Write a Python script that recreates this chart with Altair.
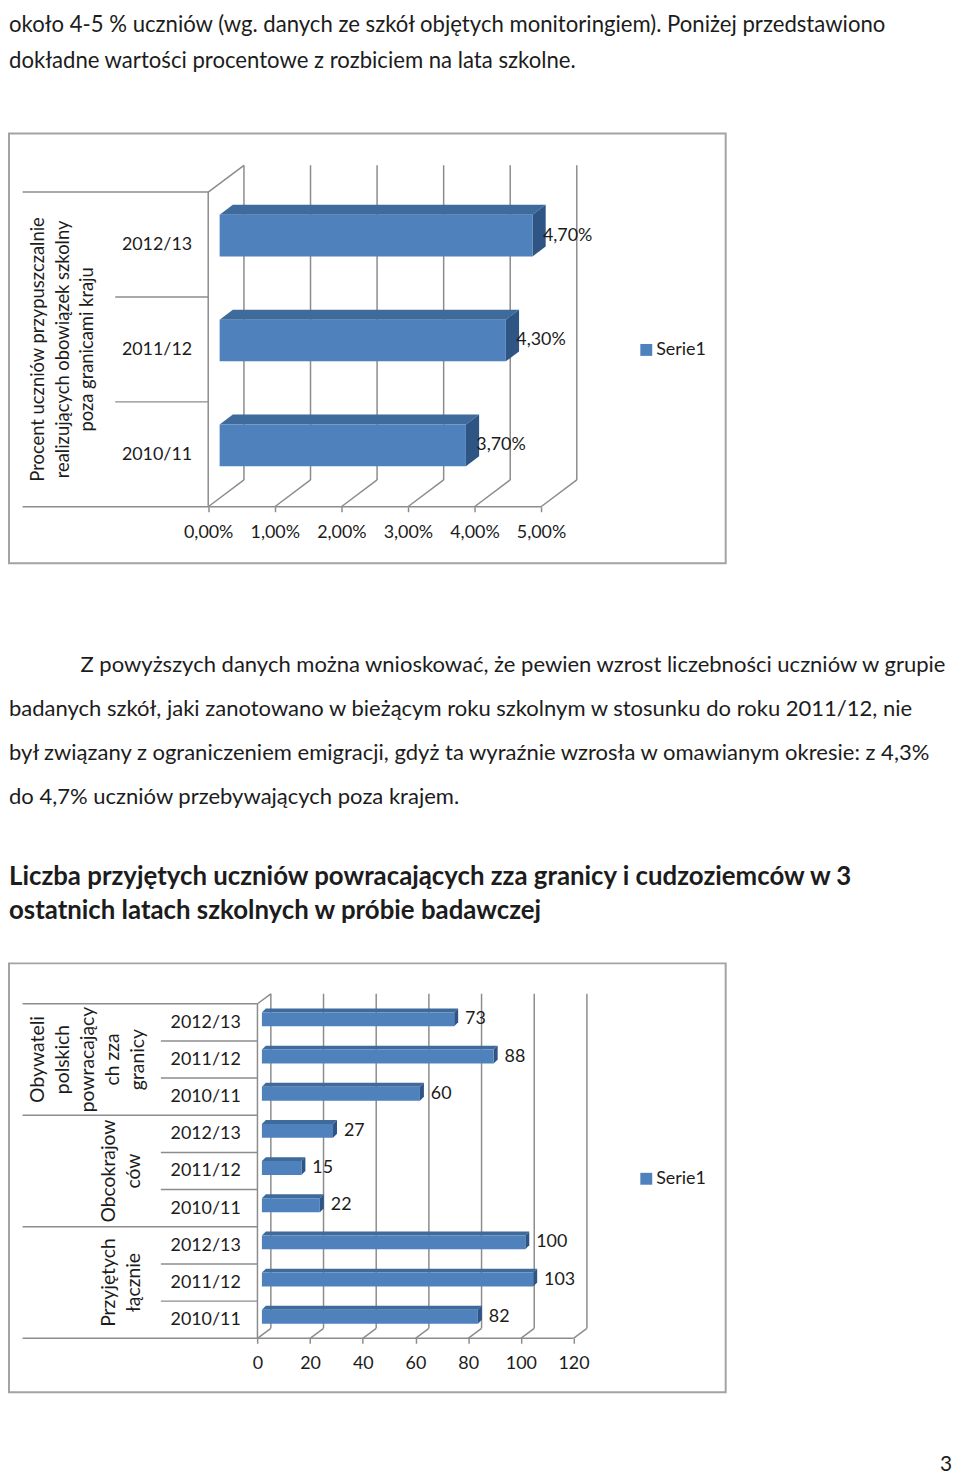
import json
import altair as alt
import pandas as pd

# ------------------------------------------------------------------ data
TOP_LINES = [
    "około 4-5 % uczniów (wg. danych ze szkół objętych monitoringiem). Poniżej przedstawiono",
    "dokładne wartości procentowe z rozbiciem na lata szkolne.",
]
PARA_FIRST = ["Z powyższych danych można wnioskować, że pewien wzrost liczebności uczniów w grupie"]
PARA_REST = [
    "badanych szkół,  jaki zanotowano w bieżącym roku szkolnym w stosunku do roku 2011/12,  nie",
    "był związany z ograniczeniem emigracji, gdyż ta wyraźnie wzrosła w omawianym okresie:  z 4,3%",
    "do 4,7% uczniów przebywających poza krajem.",
]
HEADING = [
    "Liczba przyjętych uczniów powracających zza granicy i cudzoziemców w 3",
    "ostatnich latach szkolnych w próbie badawczej",
]
PAGE_NO = ["3"]

SERIES = "Serie1"

# chart 1 (bottom -> top)
C1_YEARS = ["2010/11", "2011/12", "2012/13"]
C1_VALUES = [3.7, 4.3, 4.7]
C1_TICKS = [0, 1, 2, 3, 4, 5]
C1_TITLE = ["Procent uczniów przypuszczalnie\nrealizujących obowiązek szkolny\npoza granicami kraju"]

# chart 2 (bottom -> top)
C2_GROUPS = ["Przyjętych\nłącznie", "Obcokrajow\nców", "Obywateli\npolskich\npowracający\nch zza\ngranicy"]
C2_YEARS = ["2010/11", "2011/12", "2012/13"]
C2_VALUES = [82, 103, 100, 22, 15, 27, 60, 88, 73]
C2_TICKS = [0, 20, 40, 60, 80, 100, 120]

# ------------------------------------------------------------------ style
FONT = "Lato"
TXT = "#1c1c1c"
GRID = "#8c8c8c"
FRAME = "#a3a3a3"
FRONT = "#4f81bd"
TOPC = "#3e6a9c"
SIDEC = "#2f5585"


def chart3d(values, cat_labels, ticks, label_texts, tick_expr, W, H, xr, yr,
            wall, bar, lab_dx, axis_x, sep_long_x, sep_short_x, long_at,
            legend_xy, lab_size, tick_pad, extra):
    xmax = ticks[-1]
    n = len(values)
    kx = (xr[1] - xr[0]) / xmax
    ky = (yr[0] - yr[1]) / n
    XS = alt.Scale(domain=[0, xmax], range=list(xr), nice=False, zero=False)
    YS = alt.Scale(domain=[0, n], range=list(yr), nice=False, zero=False)
    wdx, wdy = wall[0] / kx, wall[1] / ky

    rules = []
    for t in ticks:
        rules.append(dict(x=t + wdx, x2=t + wdx, y=wdy, y2=n + wdy))
        rules.append(dict(x=t, x2=t + wdx, y=0, y2=wdy))
    rules.append(dict(x=0, x2=0, y=0, y2=n))
    rules.append(dict(x=0, x2=wdx, y=n, y2=n + wdy))
    rules.append(dict(x=0, x2=xmax, y=0, y2=0))
    for k in range(n + 1):
        left = sep_long_x if k in long_at else sep_short_x
        rules.append(dict(x=(left - xr[0]) / kx, x2=0, y=k, y2=k))

    bdx, bdy, bh, box_, boy = bar
    fx0 = box_ / kx
    front, top, side, labs = [], [], [], []
    for i, v in enumerate(values):
        c = i + 0.5 + boy / ky
        y0 = c - bh / 2 / ky
        y1 = c + bh / 2 / ky
        xa, xb = fx0, v + fx0
        front.append(dict(id=i, x=xa, x2=xb, y=y0, y2=y1, s=SERIES))
        top.append(dict(id=i, y=y1, x=xa, x2=xb))
        top.append(dict(id=i, y=y1 + bdy / ky, x=xa + bdx / kx, x2=xb + bdx / kx))
        side.append(dict(id=i, x=xb, y=y0, y2=y1))
        side.append(dict(id=i, x=xb + bdx / kx, y=y0 + bdy / ky, y2=y1 + bdy / ky))
        labs.append(dict(x=v, y=c, t=label_texts[i]))

    xaxis = alt.Axis(values=ticks, labelExpr=tick_expr, domain=False, ticks=True,
                     tickSize=5, tickColor=GRID, tickWidth=1.5, grid=False,
                     offset=-(H - yr[0]), labelPadding=tick_pad, labelBaseline="middle",
                     labelFlush=False, labelOverlap=False, labelFont=FONT,
                     labelFontSize=lab_size, labelColor=TXT, title=None)
    yaxis = alt.Axis(values=[i + 0.5 for i in range(n)],
                     labelExpr=json.dumps(cat_labels) + "[floor(datum.value)]",
                     domain=False, ticks=False, grid=False, offset=-axis_x,
                     labelPadding=6, labelFont=FONT, labelFontSize=lab_size,
                     labelColor=TXT, labelOverlap=False, labelFlush=False, title=None)

    def X(f, **kw):
        return alt.X(f, type="quantitative", scale=XS, axis=xaxis, **kw)

    def Y(f, **kw):
        return alt.Y(f, type="quantitative", scale=YS, axis=yaxis, **kw)

    rule_layer = alt.Chart(pd.DataFrame(rules)).mark_rule(
        color=GRID, strokeWidth=1.5
    ).encode(x=X("x"), x2="x2:Q", y=Y("y"), y2="y2:Q")

    top_layer = alt.Chart(pd.DataFrame(top)).mark_area(
        orient="horizontal", color=TOPC
    ).encode(y=Y("y"), x=X("x", stack=None), x2="x2:Q", detail="id:N")

    side_layer = alt.Chart(pd.DataFrame(side)).mark_area(
        orient="vertical", color=SIDEC
    ).encode(x=X("x"), y=Y("y", stack=None), y2="y2:Q", detail="id:N")

    front_layer = alt.Chart(pd.DataFrame(front)).mark_rect().encode(
        x=X("x"),
        x2="x2:Q",
        y=Y("y"),
        y2="y2:Q",
        color=alt.Color("s:N", scale=alt.Scale(domain=[SERIES], range=[FRONT]),
                        legend=alt.Legend(orient="none", legendX=legend_xy[0],
                                          legendY=legend_xy[1], title=None,
                                          symbolType="square", symbolSize=144,
                                          symbolStrokeWidth=0, labelFont=FONT,
                                          labelFontSize=lab_size, labelColor=TXT,
                                          labelOffset=1, padding=0)),
    )

    lab_layer = alt.Chart(pd.DataFrame(labs)).mark_text(
        align="left", baseline="middle", dx=lab_dx, font=FONT,
        fontSize=lab_size, color=TXT
    ).encode(x=X("x"), y=Y("y"), text="t:N")

    extra_layers = []
    for (texts, ycent, xpix, size) in extra:
        df = pd.DataFrame({"y": ycent, "t": texts})
        extra_layers.append(
            alt.Chart(df).mark_text(angle=270, align="center", baseline="middle",
                                    lineBreak="\n", lineHeight=25, font=FONT,
                                    fontSize=size, color=TXT)
            .encode(x=alt.value(xpix), y=Y("y"), text="t:N")
        )

    return alt.layer(rule_layer, top_layer, side_layer, front_layer, lab_layer,
                     *extra_layers).properties(
        width=W, height=H,
        view=alt.ViewBackground(stroke=FRAME, strokeWidth=2, fill="white"),
    )


def lines_layer(lines, x, y0, y1, size, weight="normal"):
    df = pd.DataFrame({"i": list(range(len(lines))), "t": lines})
    if len(lines) > 1:
        y = alt.Y("i:Q", scale=alt.Scale(domain=[0, len(lines) - 1], range=[y0, y1],
                                         nice=False, zero=False), axis=None)
    else:
        y = alt.value(y0)
    return alt.Chart(df).mark_text(
        align="left", baseline="middle", font=FONT, fontSize=size,
        fontWeight=weight, color=TXT
    ).encode(x=alt.value(x), y=y, text="t:N")


# ------------------------------------------------------------------ panels
p1 = alt.layer(lines_layer(TOP_LINES, 0, 12, 48, 22.3)).properties(width=944, height=121)

c1_labels = [f"{v:.2f}".replace(".", ",") + "%" for v in C1_VALUES]
p2 = chart3d(
    C1_VALUES, C1_YEARS, C1_TICKS, c1_labels,
    "replace(format(datum.value, '.2f'), '.', ',') + '%'",
    722, 433, (200.7, 536.0), (376.0, 59.0),
    wall=(36, 27), bar=(13.3, 10, 42, 11.5, 9), lab_dx=22,
    axis_x=190, sep_long_x=13.7, sep_short_x=107, long_at={0, 3},
    legend_xy=(633, 209), lab_size=18, tick_pad=21,
    extra=[(C1_TITLE, [1.5], 29, 18.5)],
)

p3 = alt.layer(
    lines_layer(PARA_FIRST, 72, 102, 102, 22.2),
    lines_layer(PARA_REST, 0, 147, 235, 22.2),
    lines_layer(HEADING, 0, 316, 350, 26, "bold"),
).resolve_scale(y="independent").properties(width=944, height=403)

c2_cats = [C2_YEARS[i % 3] for i in range(9)]
c2_labels = [str(v) for v in C2_VALUES]
p4 = chart3d(
    C2_VALUES, c2_cats, C2_TICKS, c2_labels, "datum.label",
    722, 432, (250.3, 568.7), (377.7, 40.7),
    wall=(13.5, 10), bar=(4, 4, 14, 4.5, 3), lab_dx=15.5,
    axis_x=239, sep_long_x=13.7, sep_short_x=153, long_at={0, 3, 6, 9},
    legend_xy=(633, 208), lab_size=18, tick_pad=20,
    extra=[([C2_GROUPS[2]], [7.5], 29.7, 19.5),
           (C2_GROUPS[:2], [1.5, 4.5], 101, 19.5)],
)

p5 = alt.Chart(pd.DataFrame({"t": PAGE_NO})).mark_text(
    align="right", baseline="middle", font=FONT, fontSize=21, color=TXT
).encode(x=alt.value(950), y=alt.value(73), text="t:N").properties(width=944, height=79)

chart = alt.vconcat(p1, p2, p3, p4, p5, spacing=0, bounds="flush", padding=0).resolve_scale(
    x="independent", y="independent", color="independent"
).resolve_legend(color="independent").configure_view(stroke=None)

chart.save("out.html", embed_options={"renderer": "svg", "actions": False})
